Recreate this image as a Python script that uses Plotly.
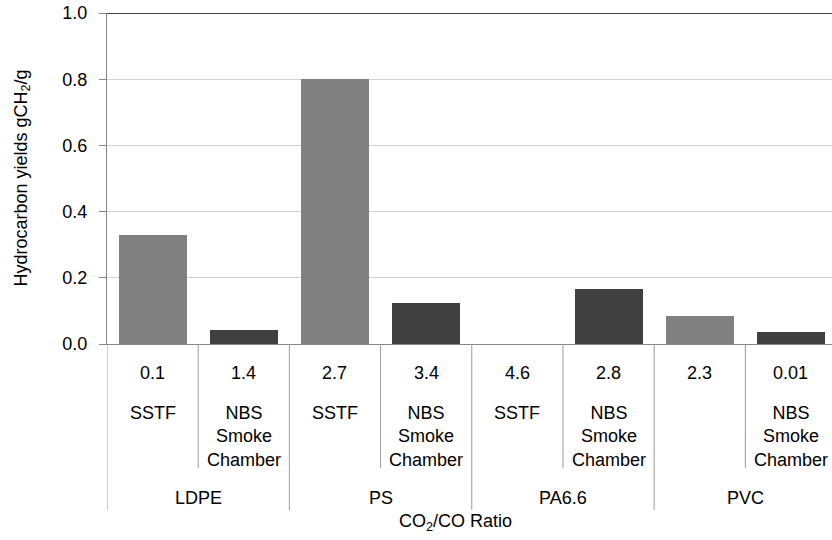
import plotly.graph_objects as go

# Hydrocarbon yields by polymer and test apparatus
polymers = ["LDPE", "PS", "PA6.6", "PVC"]
methods = ["SSTF", "NBS<br>Smoke<br>Chamber", "SSTF", "NBS<br>Smoke<br>Chamber",
           "SSTF", "NBS<br>Smoke<br>Chamber", "", "NBS<br>Smoke<br>Chamber"]
ratios = ["0.1", "1.4", "2.7", "3.4", "4.6", "2.8", "2.3", "0.01"]
yields = [0.33, 0.043, 0.80, 0.125, 0.0, 0.167, 0.085, 0.037]
is_sstf = [True, False, True, False, True, False, True, False]

SSTF_COLOR = "#808080"
NBS_COLOR = "#404040"
FONT = "Liberation Sans, Arial, sans-serif"

x_pos = list(range(len(yields)))
colors = [SSTF_COLOR if s else NBS_COLOR for s in is_sstf]

fig = go.Figure()
fig.add_trace(go.Bar(
    x=x_pos, y=yields, marker=dict(color=colors, line=dict(width=0)),
    width=0.745, showlegend=False, hoverinfo="y",
))

PLOT_H = 331.0  # pixel height of plotting area

def px_to_paper(dy):
    return -dy / PLOT_H

annotations = []
# Ratio row
for i, r in enumerate(ratios):
    annotations.append(dict(x=i, xref="x", y=0, yref="paper", text=r,
                            showarrow=False, yanchor="middle", yshift=-29,
                            font=dict(size=18, color="#000000", family=FONT)))
# Method row
for i, m in enumerate(methods):
    if not m:
        continue
    annotations.append(dict(x=i, xref="x", y=0, yref="paper", text=m,
                            showarrow=False, yanchor="top", yshift=-57,
                            font=dict(size=18, color="#000000", family=FONT)))
# Polymer row
for g, p in enumerate(polymers):
    annotations.append(dict(x=2 * g + 0.5, xref="x", y=0, yref="paper", text=p,
                            showarrow=False, yanchor="middle", yshift=-154,
                            font=dict(size=18, color="#000000", family=FONT)))
# Axis titles
annotations.append(dict(x=0.48, xref="paper", y=0, yref="paper",
                        text="CO<sub>2</sub>/CO Ratio", showarrow=False,
                        yanchor="middle", yshift=-178,
                        font=dict(size=18, color="#000000", family=FONT)))
annotations.append(dict(x=0, xref="paper", xshift=-85, y=0.5, yref="paper",
                        text="Hydrocarbon yields gCH<sub>2</sub>/g", textangle=-90,
                        showarrow=False, xanchor="center", yanchor="middle",
                        font=dict(size=18, color="#000000", family=FONT)))

shapes = []
# Separators between categories and groups
for k in range(len(yields) + 1):
    xb = k - 0.5
    group_edge = (k % 2 == 0)
    shapes.append(dict(type="line", xref="x", yref="paper", x0=xb, x1=xb,
                       y0=0, y1=px_to_paper(166 if group_edge else 124),
                       line=dict(color="#9a9a9a", width=1)))
# Top border of plot area
shapes.append(dict(type="line", xref="paper", yref="y", x0=0, x1=1, y0=1, y1=1,
                   line=dict(color="#000000", width=1.3)))

fig.update_layout(
    width=832, height=540,
    margin=dict(l=107, r=0, t=13, b=196),
    paper_bgcolor="white", plot_bgcolor="white",
    bargap=0,
    annotations=annotations, shapes=shapes,
    xaxis=dict(range=[-0.5, 7.45], showticklabels=False, showgrid=False,
               zeroline=False, showline=True, linecolor="#868686", linewidth=1,
               ticks="", fixedrange=True),
    yaxis=dict(range=[0, 1.0], dtick=0.2, tickformat=".1f", showgrid=True,
               gridcolor="#d2d2d2", gridwidth=1, zeroline=False, showline=True,
               linecolor="#868686", linewidth=1.3, ticks="outside", ticklen=7,
               tickcolor="#868686", ticklabelstandoff=8,
               tickfont=dict(size=18, color="#000000", family=FONT)),
    font=dict(family=FONT),
)

fig.write_html("out.html")
